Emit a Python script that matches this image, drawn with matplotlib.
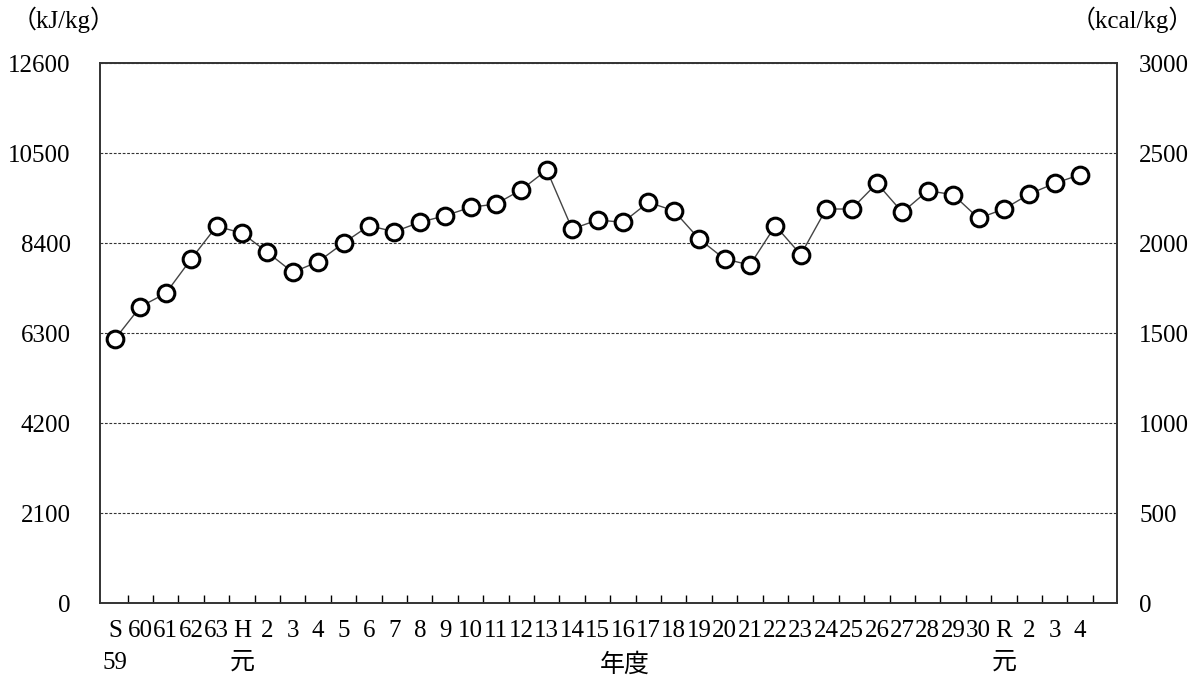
import matplotlib
matplotlib.use("Agg")
import matplotlib.pyplot as plt
import numpy as np

plt.rcParams['font.family'] = ['Liberation Serif', 'Noto Sans CJK JP']

# fiscal years (Showa 59 .. Reiwa 4)
years = ['S\n59', '60', '61', '62', '63', 'H\n元'] + [str(i) for i in range(2, 31)] + ['R\n元', '2', '3', '4']

# calorific value, kJ/kg
kj = [6160, 6914, 7226, 8027, 8790, 8633, 8183, 7716, 7964, 8400,
      8804, 8664, 8883, 9037, 9233, 9310, 9644, 10103, 8727, 8937,
      8883, 9350, 9154, 8493, 8027, 7887, 8804, 8127, 9193, 9193,
      9793, 9116, 9621, 9527, 8976, 9193, 9543, 9793, 9994]

fs = 18
fig = plt.figure(figsize=(12.01, 6.82), dpi=100)
ax = fig.add_axes([100 / 1201, 1 - 603 / 682, 1017 / 1201, 540 / 682])

x = np.arange(len(kj))
ax.plot(x, kj, color='#444444', lw=1.0, marker='o', ms=12,
        mfc='white', mec='black', mew=2.2, zorder=3)

ax.set_xlim(-0.59, 39.45)
ax.set_ylim(0, 12600)
ax.set_yticks(np.arange(0, 12601, 2100))
ax.yaxis.grid(True, linestyle=(0, (2.5, 1.5)), color='#333333', lw=0.8)
ax.tick_params(axis='y', length=0, pad=21, labelsize=fs)

ax.set_xticks(x)
ax.set_xticklabels(years, fontsize=fs, va='top', linespacing=1.6)
ax.set_xticks(np.arange(0.5, 39, 1), minor=True)
ax.tick_params(axis='x', which='major', length=0, pad=12)
ax.tick_params(axis='x', which='minor', direction='in', length=6, width=1)

for s in ax.spines.values():
    s.set_color('#333333')
    s.set_linewidth(1.2)

ax2 = ax.twinx()
ax2.set_ylim(0, 3000)
ax2.set_yticks(np.arange(0, 3001, 500))
ax2.tick_params(axis='y', length=0, pad=16, labelsize=fs)
for s in ax2.spines.values():
    s.set_color('#333333')
    s.set_linewidth(1.2)

fig.text(12 / 1201, 1 - 20 / 682, '（kJ/kg）', fontsize=fs, va='center', ha='left')
fig.text(1194 / 1201, 1 - 20 / 682, '（kcal/kg）', fontsize=fs, va='center', ha='right')
fig.text(625 / 1201, 1 - 665 / 682, '年度', fontsize=fs, va='center', ha='center')

fig.savefig('out.png', dpi=100)
